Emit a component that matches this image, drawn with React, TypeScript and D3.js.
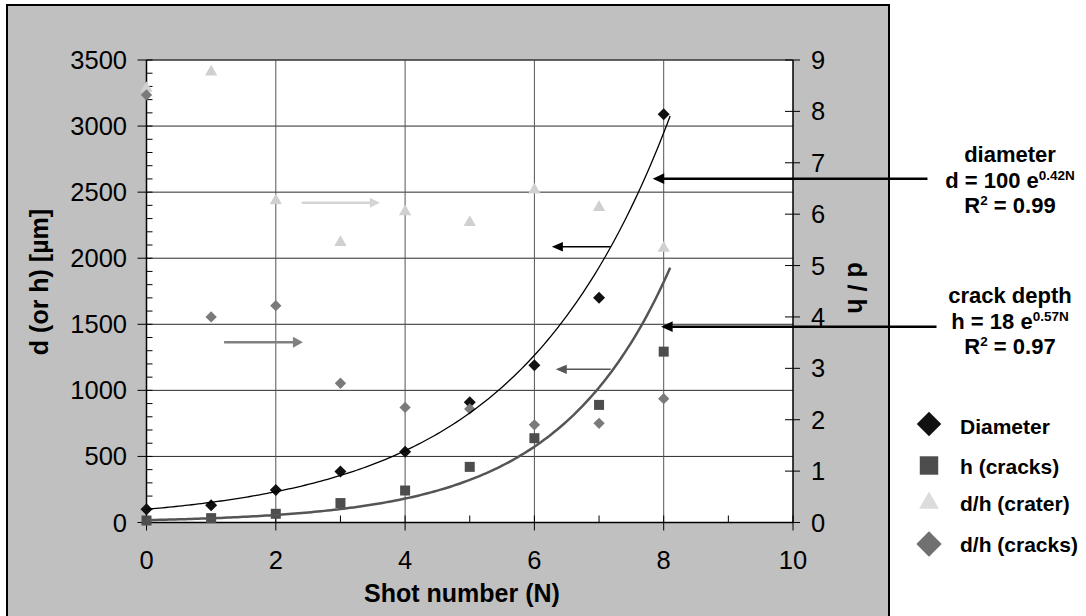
import React from "react";
import * as d3 from "d3";

// ---------- data ----------
const shots = [0, 1, 2, 3, 4, 5, 6, 7, 8];
const diameter = [100, 130, 245, 385, 535, 910, 1190, 1700, 3090];
const hCracks = [15, 33, 66, 147, 242, 421, 638, 890, 1293];
const dhCrater = [8.45, 8.77, 6.26, 5.45, 6.05, 5.84, 6.47, 6.13, 5.34];
const dhCracks = [8.32, 4.0, 4.22, 2.71, 2.24, 2.21, 1.9, 1.93, 2.41];

// exponential trend lines y = a * exp(k N), as drawn
const diameterFit = { a: 100, k: 0.423, end: 8.1 };
const crackFit = { a: 18, k: 0.577, end: 8.1 };

const xTickLabels = [0, 2, 4, 6, 8, 10];
const yLeftTicks = [0, 500, 1000, 1500, 2000, 2500, 3000, 3500];
const yRightTicks = [0, 1, 2, 3, 4, 5, 6, 7, 8, 9];

const legendItems = ["Diameter", "h (cracks)", "d/h (crater)", "d/h (cracks)"];

// arrows in data units: [N1, N2, value(left axis)], pointing to N2
const arrows = [
  { x1: 2.4, x2: 3.61, y: 2420, color: "#d4d4d4", w: 2.5, len: 10, half: 5 },
  { x1: 1.2, x2: 2.42, y: 1364, color: "#808080", w: 2.5, len: 10, half: 5.5 },
  { x1: 7.18, x2: 6.27, y: 2087, color: "#000000", w: 1.5, len: 11, half: 4.7 },
  { x1: 7.18, x2: 6.33, y: 1159, color: "#555555", w: 1.5, len: 11, half: 4.7 },
  { x1: 12.08, x2: 7.83, y: 2602, color: "#000000", w: 2.5, len: 11.5, half: 5.3 },
  { x1: 12.22, x2: 7.96, y: 1482, color: "#000000", w: 2.5, len: 11.5, half: 5.3 },
];

const FONT = "'Liberation Sans', Arial, Helvetica, sans-serif";

export default function App() {
  const L = 146.5, R = 793, T = 60, B = 522.5;
  const x = d3.scaleLinear().domain([0, 10]).range([L, R]);
  const yL = d3.scaleLinear().domain([0, 3500]).range([B, T]);
  const yR = d3.scaleLinear().domain([0, 9]).range([B, T]);

  const minorX = d3.range(1, 10, 2);
  const minorY = d3.range(0, 3501, 100).filter((v) => v % 500 !== 0);

  const trendPts = (f: { a: number; k: number; end: number }) =>
    d3.range(0, f.end + 1e-9, 0.05).map((n) => [n, f.a * Math.exp(f.k * n)] as [number, number]);
  const line = d3
    .line<[number, number]>()
    .x((d) => x(d[0]))
    .y((d) => yL(d[1]))
    .curve(d3.curveLinear);

  const diamond = (area: number) => d3.symbol().type(d3.symbolSquare).size(area)() as string;
  const square = (area: number) => d3.symbol().type(d3.symbolSquare).size(area)() as string;
  const tri = (area: number) => d3.symbol().type(d3.symbolTriangle).size(area)() as string;

  const arrowHead = (a: typeof arrows[number]) => {
    const X1 = x(a.x1), X2 = x(a.x2), Y = yL(a.y);
    const dir = X2 > X1 ? 1 : -1;
    const base = X2 - dir * a.len;
    return {
      line: { x1: X1, x2: base + dir * 1, y: Y },
      head: `${X2},${Y} ${base},${Y - a.half} ${base},${Y + a.half}`,
    };
  };

  const legendY = [424, 465.5, 503, 544];
  const legendBase = [434, 473.5, 511, 552];

  return (
    <svg
      width={1086}
      height={616}
      style={{ position: "absolute", left: 0, top: 0 }}
      fontFamily={FONT}
    >
      <rect x={0} y={0} width={1086} height={616} fill="#ffffff" />
      {/* chart area */}
      <rect x={7} y={5} width={882} height={640} fill="#c0c0c0" stroke="#000" strokeWidth={2} />
      {/* plot area */}
      <rect x={L} y={T} width={R - L} height={B - T} fill="#ffffff" />

      {/* gridlines */}
      {yLeftTicks.map((v) => (
        <line key={"gh" + v} x1={L} x2={R} y1={yL(v)} y2={yL(v)} stroke="#2a2a2a" strokeWidth={1} />
      ))}
      {xTickLabels
        .filter((v) => v > 0 && v < 10)
        .map((v) => (
          <line key={"gv" + v} x1={x(v)} x2={x(v)} y1={T} y2={B} stroke="#555" strokeWidth={1} />
        ))}

      {/* axes */}
      <line x1={L} x2={L} y1={T} y2={B} stroke="#000" strokeWidth={1.5} />
      <line x1={R} x2={R} y1={T} y2={B} stroke="#000" strokeWidth={1.5} />
      <line x1={L} x2={R} y1={B} y2={B} stroke="#000" strokeWidth={1.5} />
      <line x1={L} x2={R} y1={T} y2={T} stroke="#3a3a3a" strokeWidth={1} />

      {/* left ticks */}
      {yLeftTicks.map((v) => (
        <line key={"lt" + v} x1={L - 9} x2={L + 6} y1={yL(v)} y2={yL(v)} stroke="#000" strokeWidth={1} />
      ))}
      {minorY.map((v) => (
        <line key={"lm" + v} x1={L} x2={L + 6} y1={yL(v)} y2={yL(v)} stroke="#000" strokeWidth={1} />
      ))}
      {yLeftTicks.map((v) => (
        <text key={"ll" + v} x={127} y={yL(v) + 9} fontSize={25.5} textAnchor="end" fill="#000">
          {v}
        </text>
      ))}

      {/* right ticks */}
      {yRightTicks.map((v) => (
        <line key={"rt" + v} x1={R - 8} x2={R + 7} y1={yR(v)} y2={yR(v)} stroke="#000" strokeWidth={1} />
      ))}
      {yRightTicks.map((v) => (
        <text key={"rl" + v} x={811} y={yR(v) + 9} fontSize={25.5} textAnchor="start" fill="#000">
          {v}
        </text>
      ))}

      {/* x ticks */}
      {xTickLabels.map((v) => (
        <line key={"xt" + v} x1={x(v)} x2={x(v)} y1={B - 7} y2={B + 8} stroke="#000" strokeWidth={1} />
      ))}
      {minorX.map((v) => (
        <line key={"xm" + v} x1={x(v)} x2={x(v)} y1={B - 7} y2={B} stroke="#000" strokeWidth={1} />
      ))}
      {xTickLabels.map((v) => (
        <text key={"xl" + v} x={x(v)} y={568.5} fontSize={25.5} textAnchor="middle" fill="#000">
          {v}
        </text>
      ))}

      {/* axis titles */}
      <text x={462} y={601.5} fontSize={25} fontWeight="bold" textAnchor="middle">
        Shot number (N)
      </text>
      <text
        transform={`translate(48,${282}) rotate(-90)`}
        fontSize={25}
        fontWeight="bold"
        textAnchor="middle"
      >
        d (or h) [µm]
      </text>
      <text
        transform={`translate(848,${288}) rotate(90)`}
        fontSize={25}
        fontWeight="bold"
        textAnchor="middle"
      >
        d / h
      </text>

      {/* markers */}
      {shots.map((n, i) => (
        <path
          key={"d" + n}
          d={diamond(72)}
          transform={`translate(${x(n)},${yL(diameter[i])}) rotate(45)`}
          fill="#111"
        />
      ))}
      {shots.map((n, i) => (
        <path
          key={"h" + n}
          d={square(100)}
          transform={`translate(${x(n)},${yL(hCracks[i])})`}
          fill="#4d4d4d"
        />
      ))}
      {shots.map((n, i) => (
        <path
          key={"c" + n}
          d={tri(66)}
          transform={`translate(${x(n)},${yR(dhCrater[i])})`}
          fill="#d0d0d0"
        />
      ))}
      {shots.map((n, i) => (
        <path
          key={"k" + n}
          d={diamond(64)}
          transform={`translate(${x(n)},${yR(dhCracks[i])}) rotate(45)`}
          fill="#7a7a7a"
        />
      ))}

      {/* trend lines */}
      <path d={line(trendPts(diameterFit)) as string} fill="none" stroke="#000" strokeWidth={1.3} />
      <path d={line(trendPts(crackFit)) as string} fill="none" stroke="#555" strokeWidth={2.5} />

      {/* arrows */}
      {arrows.map((a, i) => {
        const g = arrowHead(a);
        return (
          <g key={"a" + i}>
            <line x1={g.line.x1} x2={g.line.x2} y1={g.line.y} y2={g.line.y} stroke={a.color} strokeWidth={a.w} />
            <polygon points={g.head} fill={a.color} />
          </g>
        );
      })}

      {/* annotations */}
      <g fontWeight="bold" fontSize={22} textAnchor="middle" fill="#000">
        <text x={1010} y={162}>diameter</text>
        <text x={1010} y={187.5}>
          d = 100 e<tspan fontSize={13.5} dy={-8}>0.42N</tspan>
        </text>
        <text x={1010} y={213}>
          R<tspan fontSize={13.5} dy={-8}>2</tspan>
          <tspan dy={8}> = 0.99</tspan>
        </text>
        <text x={1010} y={302.5}>crack depth</text>
        <text x={1010} y={328.5}>
          h = 18 e<tspan fontSize={13.5} dy={-8}>0.57N</tspan>
        </text>
        <text x={1010} y={354}>
          R<tspan fontSize={13.5} dy={-8}>2</tspan>
          <tspan dy={8}> = 0.97</tspan>
        </text>
      </g>

      {/* legend */}
      <path d={diamond(300)} transform={`translate(929,${legendY[0]}) rotate(45)`} fill="#111" />
      <path d={square(340)} transform={`translate(929,${legendY[1]})`} fill="#4d4d4d" />
      <path d={tri(170)} transform={`translate(929,${legendY[2]})`} fill="#dcdcdc" />
      <path d={diamond(320)} transform={`translate(929,${legendY[3]}) rotate(45)`} fill="#707070" />
      {legendItems.map((t, i) => (
        <text key={t} x={960} y={legendBase[i]} fontSize={21} fontWeight="bold" fill="#000">
          {t}
        </text>
      ))}
    </svg>
  );
}
